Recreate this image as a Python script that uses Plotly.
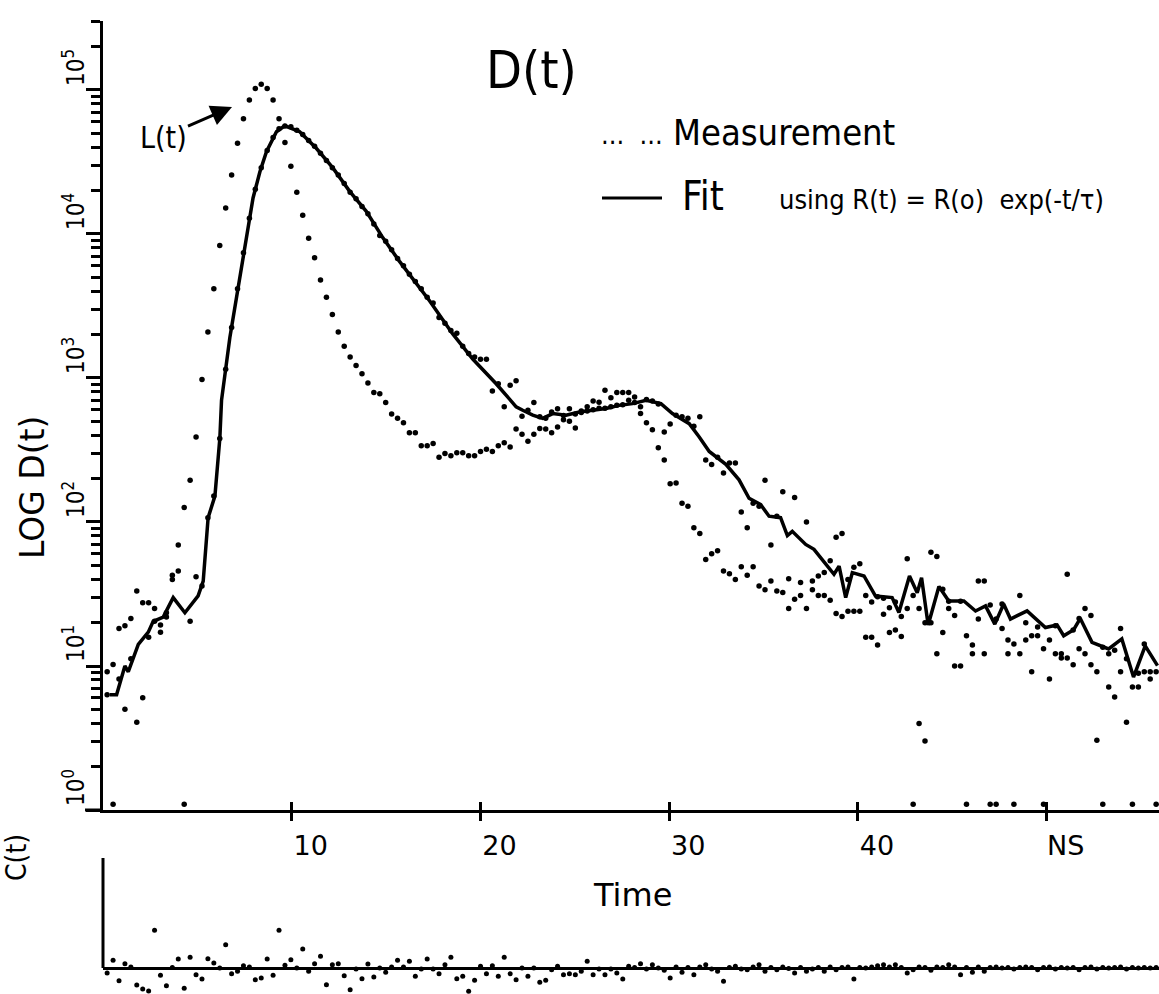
import plotly.graph_objects as go

# ---------------- data ----------------
channel_width_ns = 0.314
first_channel_ns = 0.22

# lamp profile L(t), log10 counts per channel
L_log = [
    0.96, 0.04, 0.91, 0.70, 1.33, 0.61, 0.78, 1.44, 1.40, 1.285,
    1.37, 1.63, 1.84, 2.10, 2.29, 2.59, 2.99, 3.32, 3.62, 3.92,
    4.18, 4.41, 4.63, 4.80, 4.93, 5.01, 5.04, 5.01, 4.93, 4.80,
    4.635, 4.47, 4.29, 4.13, 3.97, 3.835, 3.68, 3.56, 3.44, 3.32,
    3.22, 3.145, 3.087, 3.03, 2.965, 2.90, 2.89, 2.83, 2.75, 2.72,
    2.69, 2.62, 2.62, 2.53, 2.53, 2.545, 2.45, 2.475, 2.46, 2.48,
    2.48, 2.46, 2.46, 2.49, 2.505, 2.49, 2.53, 2.55, 2.52, 2.645,
    2.61, 2.56, 2.61, 2.65, 2.645, 2.62, 2.66, 2.71, 2.70, 2.653,
    2.76, 2.80, 2.84, 2.832, 2.914, 2.863, 2.90, 2.90, 2.90, 2.868,
    2.753, 2.69, 2.64, 2.515, 2.43, 2.265, 2.27, 2.13, 2.11, 1.96,
    1.92, 1.74, 1.78, 1.80, 1.66, 1.64, 1.60, 1.69, 1.63, 1.69,
    1.555, 1.53, 1.59, 1.52, 1.51, 1.40, 1.464, 1.49, 1.40, 1.53,
    1.49, 1.49, 1.457, 1.364, 1.343, 1.38, 1.38, 1.38, 1.20, 1.20,
    1.146, 1.36, 1.233, 1.25, 1.205, 1.40, 0.04, 0.60, 0.48, 1.30,
    1.085, 1.233, 1.45, 1.0, 1.0, 0.04, 1.085, 1.326, 1.085, 0.04,
    0.04, 1.43, 1.085, 0.04, 1.085, 1.18, 0.96, 1.27, 0.04, 0.91,
    1.28, 1.055, 1.055, 1.25, 1.33, 1.085, 1.008, 0.485, 0.04, 0.855,
    1.11, 0.96, 1.05, 0.04, 0.95, 0.96, 0.91, 0.04,
]

# measured decay D(t), log10 counts per channel
D_log = [
    0.80, 1.01, 1.26, 1.28, 1.05, 1.52, 1.44, 1.20, 1.31, 1.234,
    1.34, 1.60, 1.66, 0.04, 1.31, 1.62, 1.556, 2.03, 2.18, 2.58,
    3.06, 3.35, 3.62, 3.87, 4.11, 4.31, 4.46, 4.58, 4.67, 4.73,
    4.75, 4.745, 4.72, 4.69, 4.65, 4.61, 4.56, 4.51, 4.46, 4.41,
    4.35, 4.29, 4.245, 4.19, 4.14, 4.07, 3.99, 3.95, 3.89, 3.83,
    3.78, 3.72, 3.67, 3.62, 3.56, 3.52, 3.42, 3.38, 3.33, 3.31,
    3.22, 3.17, 3.145, 3.13, 3.13, 2.91, 2.96, 2.80, 2.95, 2.98,
    2.735, 2.776, 2.83, 2.73, 2.72, 2.763, 2.787, 2.74, 2.787, 2.75,
    2.77, 2.77, 2.78, 2.79, 2.79, 2.80, 2.81, 2.815, 2.845, 2.83,
    2.80, 2.85, 2.84, 2.82, 2.625, 2.68, 2.742, 2.73, 2.72, 2.665,
    2.73, 2.43, 2.40, 2.45, 2.34, 2.41, 2.41, 2.07, 1.96, 2.13,
    2.11, 2.29, 1.84, 2.04, 2.21, 1.606, 2.17, 1.58, 2.0, 1.59,
    1.625, 1.65, 1.73, 1.894, 1.92, 1.60, 1.686, 1.71, 1.49, 1.445,
    1.48, 1.47, 1.405, 1.445, 1.343, 1.745, 1.49, 1.40, 1.30, 1.79,
    1.76, 1.533, 1.40, 1.35, 1.45, 1.21, 1.146, 1.59, 1.59, 1.423,
    1.326, 1.26, 1.18, 1.153, 1.49, 1.30, 1.21, 1.21, 1.12, 1.18,
    1.085, 1.085, 1.637, 1.008, 1.12, 1.40, 1.35, 0.96, 1.13, 1.085,
    0.785, 1.26, 0.61, 0.855, 0.855, 1.153, 0.96, 0.96,
]

# weighted residuals C(t) per channel
residual = [
    -0.5, 0.77, -1.27, 0.43, 0.1, -1.7, -2.1, -2.3, 3.77, -0.73,
    -1.77, 0.05, 0.9, -2.03, 1.07, -0.67, -1.1, 0.93, 0.5, 0.0,
    2.33, -0.57, -0.33, 0.23, 0.1, -1.17, -1.0, 0.9, -0.73, 3.77,
    0.27, 0.83, 0.0, 1.9, -0.33, 0.43, 1.17, -1.67, 0.33, 0.43,
    -0.77, -2.17, -0.1, -1.07, 0.4, -0.9, 0.0, -0.43, 0.1, 0.77,
    0.1, 0.67, -0.83, -0.1, 0.9, -0.1, -0.57, 0.33, 1.07, -1.07,
    -0.83, -2.33, -1.23, 0.17, -0.57, 0.23, -0.83, 1.07, -0.57, -1.17,
    0.0, -0.83, 0.0, -1.43, -1.23, -0.17, 0.17, -0.67, -0.57, -0.67,
    -0.33, 0.67, -0.67, -0.1, -0.67, -0.1, -0.5, -1.1, 0.17, 0.05,
    0.43, -0.1, 0.33, 0.0, -0.23, -1.0, 0.1, -0.43, 0.05, -0.67,
    0.1, 0.33, -0.1, -0.33, -1.33, 0.05, 0.17, -0.1, -0.17, 0.1,
    0.33, -0.33, 0.05, -0.17, 0.1, -0.05, -0.5, 0.05, -0.33, -0.1,
    0.05, -0.33, 0.1, -0.17, 0.05, 0.1, -1.1, 0.05, 0.0, 0.1,
    0.23, 0.33, 0.1, 0.33, 0.05, -0.5, -0.17, 0.1, 0.05, -0.23,
    0.1, 0.05, 0.33, 0.1, -0.67, 0.05, -0.43, 0.1, -0.33, 0.05,
    0.1, 0.0, 0.05, -0.1, 0.05, 0.1, 0.05, -0.17, 0.05, 0.1,
    -0.1, 0.05, 0.0, 0.05, -0.17, 0.05, 0.1, -0.1, 0.05, 0.0,
    0.05, 0.1, -0.1, 0.05, 0.0, 0.05, 0.0, 0.05,
]

# fitted curve (vertices of the drawn line): time in ns, log10 counts
fit_time_ns = [
    0.37, 0.72, 1.16, 1.34, 1.87, 2.40, 2.66, 3.19, 3.72, 4.34,
    5.04, 5.31, 5.57, 5.93, 6.19, 6.28, 6.72, 6.90, 7.25, 7.60,
    7.95, 8.31, 8.66, 9.19, 9.63, 10.42, 11.30, 12.19, 13.07, 13.95,
    14.83, 15.71, 17.30, 18.53, 19.59, 20.83, 21.89, 22.24, 22.77, 23.30,
    23.83, 24.53, 25.24, 25.94, 26.65, 27.35, 28.06, 28.77, 29.56, 30.17,
    31.06, 31.59, 32.12, 33.00, 33.70, 34.23, 34.85, 35.29, 35.90, 36.26,
    36.52, 37.23, 37.67, 38.73, 39.00, 39.35, 39.70, 40.32, 40.93, 41.81,
    42.17, 42.73, 43.14, 43.37, 43.72, 44.29, 44.81, 45.61, 46.23, 46.76,
    47.25, 47.72, 48.08, 48.96, 49.93, 50.55, 50.90, 51.43, 51.78, 52.40,
    53.28, 53.98, 54.60, 55.22, 55.87,
]
fit_log = [
    0.80, 0.80, 1.00, 0.96, 1.15, 1.235, 1.31, 1.34, 1.475, 1.37,
    1.487, 1.59, 2.03, 2.18, 2.58, 2.845, 3.28, 3.42, 3.72, 4.00,
    4.25, 4.43, 4.572, 4.71, 4.751, 4.71, 4.595, 4.457, 4.296, 4.157,
    3.973, 3.81, 3.536, 3.306, 3.132, 2.96, 2.80, 2.776, 2.742, 2.72,
    2.753, 2.742, 2.764, 2.776, 2.788, 2.81, 2.822, 2.845, 2.822, 2.753,
    2.683, 2.59, 2.49, 2.40, 2.293, 2.165, 2.12, 2.04, 2.03, 1.906,
    1.935, 1.844, 1.81, 1.637, 1.694, 1.475, 1.648, 1.625, 1.486, 1.475,
    1.371, 1.625, 1.509, 1.613, 1.285, 1.552, 1.452, 1.452, 1.382, 1.417,
    1.291, 1.43, 1.326, 1.383, 1.267, 1.285, 1.21, 1.252, 1.33, 1.164,
    1.118, 1.188, 0.923, 1.14, 1.003,
]

x_tick_values = [10, 20, 30, 40, 50]
x_tick_labels = ["10", "20", "30", "40", "NS"]
y_decades = [0, 1, 2, 3, 4, 5]

# ---------------- derived ----------------
time_ns = [round(first_channel_ns + i * channel_width_ns, 3) for i in range(len(D_log))]
L_counts = [10 ** v for v in L_log]
D_counts = [10 ** v for v in D_log]
fit_counts = [10 ** v for v in fit_log]

W, H = 1159, 994
ML, MR, MT, MB = 103, 0, 21, 0
PW, PH = W - ML - MR, H - MT - MB
X_AXIS_PX = 810          # page y of main x axis
RES_TOP_PX = 858         # page y of top of residual panel


def paper(xp, yp):
    return (xp - ML) / PW, (H - MB - yp) / PH


main_bottom = paper(0, X_AXIS_PX)[1]
res_top = paper(0, RES_TOP_PX)[1]

FONT = "DejaVu Sans Condensed, Liberation Sans Narrow, DejaVu Sans, sans-serif"
WIDE = "DejaVu Sans, Liberation Sans, sans-serif"
INK = "black"

fig = go.Figure()
fig.add_trace(go.Scatter(x=time_ns, y=L_counts, mode="markers",
                         marker=dict(size=5.5, color=INK), name="L(t)",
                         xaxis="x", yaxis="y"))
fig.add_trace(go.Scatter(x=time_ns, y=D_counts, mode="markers",
                         marker=dict(size=5.5, color=INK), name="Measurement",
                         xaxis="x", yaxis="y"))
fig.add_trace(go.Scatter(x=fit_time_ns, y=fit_counts, mode="lines",
                         line=dict(color=INK, width=3.5), name="Fit",
                         xaxis="x", yaxis="y"))
fig.add_trace(go.Scatter(x=time_ns, y=residual, mode="markers",
                         marker=dict(size=5, color=INK), name="C(t)",
                         xaxis="x2", yaxis="y2"))
# empty trace to carry the inside half of the crossing x ticks
fig.add_trace(go.Scatter(x=[None], y=[None], xaxis="x3", yaxis="y",
                         showlegend=False, hoverinfo="skip"))

minor_vals = [m * 10 ** e for e in range(6) for m in range(2, 10) if m * 10 ** e <= 3.0e5]

x_range = [0, 55.95]
fig.update_layout(
    template="none",
    width=W, height=H, autosize=False,
    margin=dict(l=ML, r=MR, t=MT, b=MB, pad=0),
    paper_bgcolor="white", plot_bgcolor="white",
    showlegend=False,
    font=dict(family=FONT, color=INK),
    xaxis=dict(domain=[0, 1], range=x_range, anchor="y", automargin=False,
               showline=True, linewidth=3, linecolor=INK,
               ticks="outside", ticklen=8, tickwidth=3, tickcolor=INK,
               tickmode="array", tickvals=x_tick_values, ticktext=x_tick_labels,
               tickfont=dict(size=27, family=WIDE, color=INK), ticklabelshift=19,
               ticklabelstandoff=2,
               showgrid=False, zeroline=False),
    xaxis3=dict(overlaying="x", range=x_range, anchor="y", side="bottom",
                automargin=False,
                ticks="inside", ticklen=8, tickwidth=3, tickcolor=INK,
                tickmode="array", tickvals=x_tick_values,
                showticklabels=False, showline=False, showgrid=False, zeroline=False),
    yaxis=dict(type="log", domain=[main_bottom, 1], range=[0, 5.479], anchor="x",
               automargin=False,
               showline=True, linewidth=3, linecolor=INK,
               ticks="outside", ticklen=14, tickwidth=3, tickcolor=INK,
               tickmode="array", tickvals=[10 ** d for d in y_decades],
               ticktext=["10<sup>%d</sup>" % d for d in y_decades],
               tickangle=-90, tickfont=dict(size=24, family=FONT, color=INK),
               ticklabelshift=-19, ticklabelstandoff=-8,
               minor=dict(ticks="outside", ticklen=9, tickwidth=2.5, tickcolor=INK,
                          tickmode="array", tickvals=minor_vals, showgrid=False),
               showgrid=False, zeroline=False),
    xaxis2=dict(domain=[0, 1], range=x_range, anchor="y2", automargin=False,
                showline=False, showticklabels=False, ticks="",
                showgrid=False, zeroline=False),
    yaxis2=dict(domain=[0, res_top], range=[-2.6, 11], anchor="x2", automargin=False,
                showline=False, showticklabels=False, ticks="",
                showgrid=False, zeroline=True, zerolinecolor=INK, zerolinewidth=3),
)

# residual panel vertical axis (from baseline up) and x-axis stub left of origin
fig.add_shape(type="line", xref="paper", yref="y2", x0=0, x1=0, y0=0, y1=11,
              line=dict(color=INK, width=3))
fig.add_shape(type="line", xref="paper", yref="paper",
              x0=paper(85, 0)[0], x1=0, y0=main_bottom, y1=main_bottom,
              line=dict(color=INK, width=3))
# legend sample line for the fit
lx0, ly = paper(602, 198)
lx1, _ = paper(662, 198)
fig.add_shape(type="line", xref="paper", yref="paper", x0=lx0, x1=lx1, y0=ly, y1=ly,
              line=dict(color=INK, width=3))


def text(s, xp, yp, size, xanchor="center", angle=0, family=FONT):
    x, y = paper(xp, yp)
    fig.add_annotation(text=s, x=x, y=y, xref="paper", yref="paper",
                       xanchor=xanchor, yanchor="middle", showarrow=False,
                       textangle=angle, font=dict(size=size, family=family, color=INK))


text("D(t)", 531, 70, 52)
text("...  ...", 599, 134, 27, xanchor="left")
text("Measurement", 671, 133, 36, xanchor="left")
text("Fit", 680, 196, 40, xanchor="left")
text("using R(t) = R(o)  exp(-t/τ)", 777, 199, 27, xanchor="left")
text("LOG D(t)", 32, 488, 33, angle=-90, family=WIDE)
text("Time", 632, 895, 32, family=WIDE)
text("C(t)", 16, 858, 28, angle=-90)

# L(t) label with arrow pointing at the lamp peak
hx, hy = paper(232, 107)
fig.add_annotation(text="L(t)", x=hx, y=hy, xref="paper", yref="paper",
                   showarrow=True, ax=-69, ay=30, axref="pixel", ayref="pixel",
                   arrowhead=2, arrowsize=1.4, arrowwidth=3, arrowcolor=INK,
                   font=dict(size=30, family=FONT, color=INK))

fig.write_html("out.html")
